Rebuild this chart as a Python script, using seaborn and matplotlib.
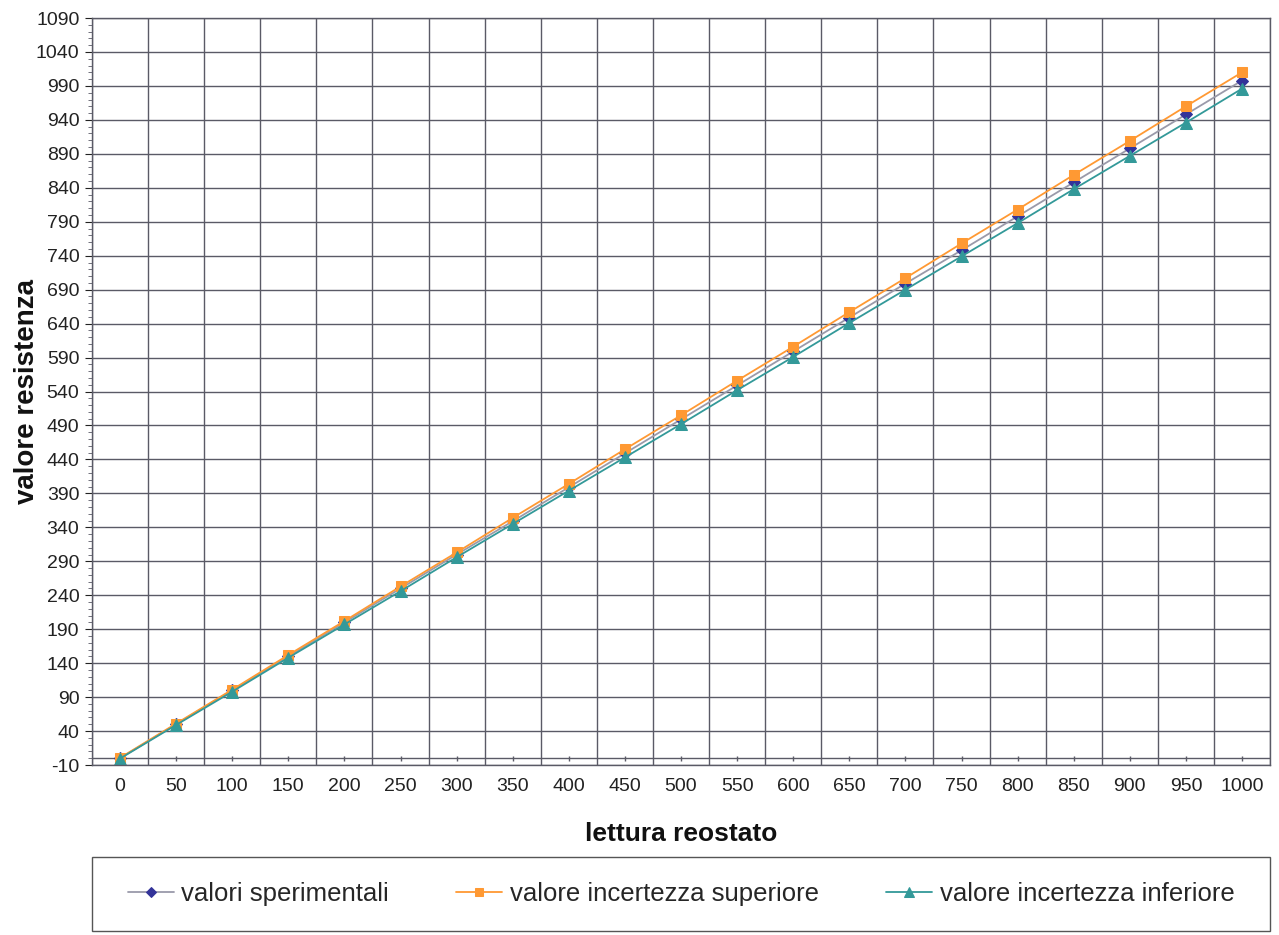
import numpy as np
import pandas as pd
import matplotlib
matplotlib.use("Agg")
import matplotlib.pyplot as plt
import seaborn as sns
from matplotlib.ticker import MultipleLocator
from matplotlib.patches import Rectangle

# SECTION - DATA
letture = [0, 50, 100, 150, 200, 250, 300, 350, 400, 450, 500,
           550, 600, 650, 700, 750, 800, 850, 900, 950, 1000]
valori_sperimentali = [0, 50, 100, 150, 200, 250, 300, 349, 399, 449, 499,
                       549, 599, 649, 699, 748, 798, 848, 898, 948, 998]
incertezza_superiore = [0.5, 51, 101, 152, 202, 253, 303, 354, 404, 455, 505,
                        556, 606, 657, 707, 758, 808, 859, 909, 960, 1010]
incertezza_inferiore = [-0.5, 49, 98, 148, 197, 246, 296, 345, 394, 443, 492,
                        542, 591, 641, 690, 739, 788, 838, 887, 936, 986]
# !SECTION

sns.set_style("white")
plt.rcParams["font.family"] = ["Liberation Sans", "DejaVu Sans"]
plt.rcParams["axes.unicode_minus"] = False

df = pd.DataFrame({
    "pos": np.arange(len(letture)),
    "valori sperimentali": valori_sperimentali,
    "valore incertezza superiore": incertezza_superiore,
    "valore incertezza inferiore": incertezza_inferiore,
})

fig = plt.figure(figsize=(12.79, 9.35), dpi=100)
ax = fig.add_axes([0.0719, 0.1818, 0.9211, 0.7989])

grid_col = "#5a5a66"
series = [
    ("valori sperimentali", "#333399", "#9a9aaa", "D", 6),
    ("valore incertezza superiore", "#ff9933", "#ff9933", "s", 7),
    ("valore incertezza inferiore", "#339999", "#339999", "^", 8),
]

# lines with seaborn, markers coloured apart from the line
for name, mcol, lcol, mk, ms in series:
    sns.lineplot(data=df, x="pos", y=name, ax=ax, color=lcol, lw=1.3,
                 marker=mk, markersize=ms, markerfacecolor=mcol,
                 markeredgecolor=mcol, label=name, legend=False)

ax.set_xlim(-0.5, len(letture) - 0.5)
ax.set_ylim(-10, 1090)
ax.set_yticks(np.arange(-10, 1091, 50))
ax.yaxis.set_minor_locator(MultipleLocator(10))
ax.set_xticks(df["pos"])
ax.set_xticklabels([str(v) for v in letture])
ax.set_xticks(np.arange(-0.5, len(letture), 1), minor=True)

ax.grid(True, which="major", axis="y", color=grid_col, lw=1)
ax.grid(True, which="minor", axis="x", color=grid_col, lw=1)
ax.grid(False, which="major", axis="x")
ax.set_axisbelow(True)

# x axis crossing at 0 with tick marks at the categories
ax.axhline(0, color=grid_col, lw=1, zorder=1)
ax.vlines(df["pos"], -4, 4, color=grid_col, lw=1, zorder=1)

ax.tick_params(axis="x", which="both", length=0, labelsize=14, pad=9, colors="#222222")
ax.tick_params(axis="y", which="major", length=5, labelsize=14, colors="#222222",
               left=True, direction="out", pad=4)
ax.tick_params(axis="y", which="minor", length=3, left=True, color=grid_col)
for s in ax.spines.values():
    s.set_color(grid_col)
    s.set_linewidth(1)

ax.set_xlabel("lettura reostato", fontsize=19, fontweight="bold", labelpad=20,
              color="#111111")
ax.set_ylabel("valore resistenza", fontsize=20, fontweight="bold", labelpad=-3,
              color="#111111")

# legend box under the plot, full plot width
fig.patches.append(Rectangle((0.0719, 0.004), 0.9211, 0.079, transform=fig.transFigure,
                             fill=False, edgecolor="#555555", lw=1))
handles, labels = ax.get_legend_handles_labels()
leg = fig.legend(handles, labels, loc="center", ncol=3,
                 bbox_to_anchor=(0.0719 + 0.9211 / 2, 0.004 + 0.079 / 2),
                 fontsize=18.5, frameon=False, handlelength=1.8, handletextpad=0.3,
                 columnspacing=2.6, markerscale=0.85)

fig.savefig("out.png", dpi=100)
